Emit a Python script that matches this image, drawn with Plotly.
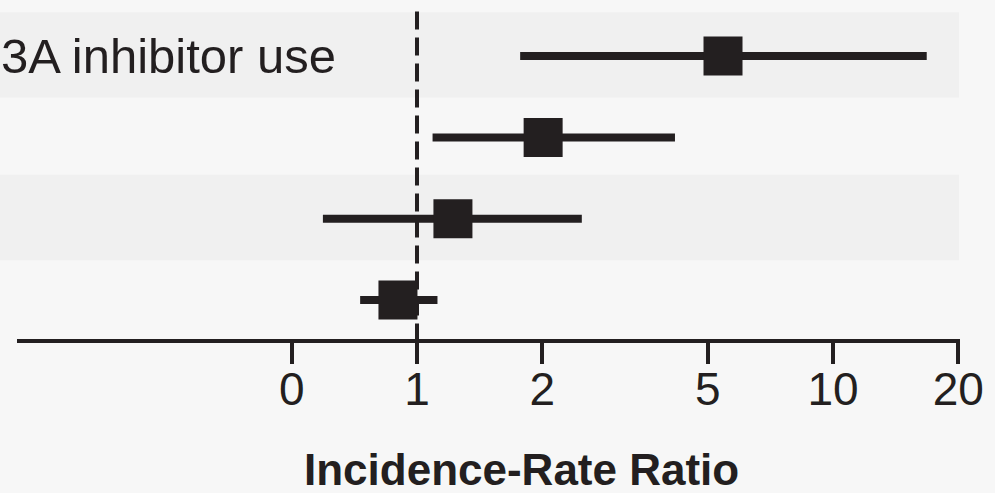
import plotly.graph_objects as go

# Data
rows = [4, 3, 2, 1]                 # row positions, top to bottom
labels = ["3A inhibitor use", "", "", ""]
irr = [5.44, 2.01, 1.22, 0.90]
ci_low = [1.77, 1.09, 0.594, 0.73]
ci_high = [16.8, 4.17, 2.49, 1.12]
tick_vals = [0.5, 1, 2, 5, 10, 20]
tick_text = ["0", "1", "2", "5", "10", "20"]
axis_title = "Incidence-Rate Ratio"

W, H = 995, 493
INK = "#231f20"
BG = "#f7f7f7"
BAND = "#f0f0f0"

fig = go.Figure()

# reference line at 1
fig.add_trace(go.Scatter(x=[1, 1], y=[0.49, 4.6], mode="lines",
                         line=dict(color=INK, width=4, dash="18px,8px"),
                         hoverinfo="skip", showlegend=False))

# CI lines
for y, lo, hi in zip(rows, ci_low, ci_high):
    fig.add_trace(go.Scatter(x=[lo, hi], y=[y, y], mode="lines",
                             line=dict(color=INK, width=8),
                             hoverinfo="skip", showlegend=False))

# point estimates
fig.add_trace(go.Scatter(x=irr, y=rows, mode="markers",
                         marker=dict(symbol="square", size=39, color=INK,
                                     line=dict(width=0)),
                         showlegend=False))

# shaded bands (rows 1 and 3)
shapes = []
for y in [rows[0], rows[2]]:
    shapes.append(dict(type="rect", xref="paper", yref="y", layer="below",
                       x0=-0.01, x1=959 / W, y0=y - 0.51, y1=y + 0.54,
                       fillcolor=BAND, line=dict(width=0)))
# axis line (partial width)
shapes.append(dict(type="line", xref="paper", yref="paper",
                   x0=17 / W, x1=960 / W, y0=0, y1=0,
                   line=dict(color=INK, width=4)))

annotations = []
for y, lab in zip(rows, labels):
    if lab:
        annotations.append(dict(text=lab, xref="paper", yref="y",
                                x=338 / W, y=y, xanchor="right", yanchor="middle",
                                showarrow=False,
                                font=dict(family="Liberation Sans", size=49, color=INK)))
annotations.append(dict(text=axis_title, xref="paper", yref="paper",
                        x=521 / W, y=(341 - 469) / 341, xanchor="center",
                        yanchor="middle", showarrow=False,
                        font=dict(family="Liberation Sans", size=44, color=INK,
                                  weight=600)))

fig.update_layout(
    width=W, height=H,
    margin=dict(l=0, r=0, t=0, b=H - 341, pad=0),
    paper_bgcolor=BG, plot_bgcolor="rgba(0,0,0,0)",
    shapes=shapes, annotations=annotations,
    xaxis=dict(type="log", range=[-417 / 416, (W - 417) / 416],
               tickvals=tick_vals, ticktext=tick_text,
               ticks="outside", ticklen=22, tickwidth=4, tickcolor=INK,
               ticklabelstandoff=-14,
               showgrid=False, zeroline=False, showline=False,
               tickfont=dict(family="Liberation Sans", size=46, color=INK)),
    yaxis=dict(range=[0.496, 4.690], visible=False, showgrid=False,
               zeroline=False, fixedrange=True),
    showlegend=False,
)

fig.write_html("out.html",
               config={"displayModeBar": False},
               post_script="document.body.style.margin='0';"
                           "document.body.style.background='#f7f7f7';")
